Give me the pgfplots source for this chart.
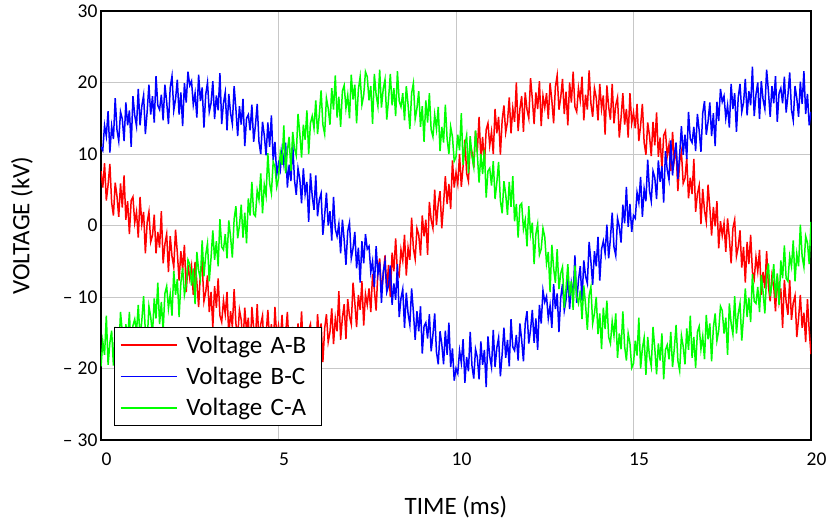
\documentclass[border=0pt]{standalone}
\usepackage{pgfplots}
\pgfplotsset{compat=1.18}
\usepackage{pgfplotstable}
\usepackage{fontspec}
\setmainfont{Carlito}
\pgfplotstableread{
t R B G
0.00 7.6 11.0 -19.7
0.05 5.3 10.5 -16.2
0.10 8.7 14.0 -18.1
0.15 3.5 12.5 -12.6
0.20 5.7 16.0 -19.5
0.25 8.6 10.2 -16.4
0.30 3.2 13.9 -14.7
0.35 1.4 12.1 -19.6
0.40 6.0 17.8 -14.2
0.45 4.1 13.4 -16.6
0.50 1.2 11.8 -17.8
0.55 5.9 15.9 -12.1
0.60 2.5 14.9 -14.9
0.65 7.0 11.8 -18.3
0.70 0.8 17.2 -13.8
0.75 3.4 14.0 -16.1
0.80 -1.2 16.1 -12.1
0.85 3.5 11.0 -18.3
0.90 4.0 18.1 -14.0
0.95 0.4 15.4 -13.1
1.00 1.9 13.9 -14.9
1.05 -1.7 19.1 -11.1
1.10 4.0 14.0 -15.9
1.15 0.2 16.7 -13.3
1.20 1.9 18.2 -9.9
1.25 -3.9 12.8 -14.9
1.30 0.4 15.9 -16.3
1.35 1.9 19.7 -11.3
1.40 -2.3 15.5 -12.8
1.45 -1.4 18.1 -15.2
1.50 1.5 14.4 -10.2
1.55 -3.9 20.9 -13.0
1.60 -0.9 16.8 -8.0
1.65 -3.1 16.2 -13.8
1.70 2.0 18.3 -10.7
1.75 -5.3 14.7 -14.7
1.80 -2.6 19.7 -9.5
1.85 -1.2 17.3 -8.5
1.90 -6.5 14.2 -11.6
1.95 -1.5 19.3 -9.6
2.00 -4.3 20.9 -12.6
2.05 -5.8 16.1 -6.4
2.10 -0.6 17.7 -9.7
2.15 -3.8 20.4 -7.5
2.20 -7.7 15.5 -12.8
2.25 -3.6 18.6 -8.0
2.30 -6.2 13.9 -5.9
2.35 -2.7 19.9 -9.7
2.40 -9.3 17.2 -8.3
2.45 -5.5 21.5 -4.8
2.50 -7.4 19.6 -5.4
2.55 -5.7 20.2 -8.4
2.60 -9.7 16.9 -6.0
2.65 -5.1 18.5 -11.0
2.70 -7.9 15.1 -3.7
2.75 -11.4 21.1 -6.3
2.80 -6.6 17.4 -7.5
2.85 -5.4 19.3 -2.1
2.90 -10.6 13.7 -7.1
2.95 -9.3 18.3 -4.1
3.00 -7.0 20.0 -2.5
3.05 -12.1 15.9 -7.8
3.10 -9.3 17.1 -4.5
3.15 -14.2 20.2 -0.7
3.20 -8.5 14.9 -4.8
3.25 -11.5 18.2 -2.2
3.30 -7.4 16.1 -5.7
3.35 -12.6 21.3 0.9
3.40 -13.5 14.2 -3.0
3.45 -10.5 17.1 -3.4
3.50 -12.4 18.6 -1.2
3.55 -9.3 13.3 -4.6
3.60 -15.5 18.4 0.7
3.65 -12.0 15.7 -1.6
3.70 -14.2 14.2 -4.5
3.75 -8.9 19.5 0.9
3.80 -13.7 16.3 2.7
3.85 -15.7 12.5 -1.8
3.90 -11.8 16.7 0.0
3.95 -13.2 14.1 2.9
4.00 -16.6 17.7 -1.7
4.05 -11.5 11.1 1.8
4.10 -14.8 15.0 -2.5
4.15 -12.9 15.5 3.8
4.20 -18.3 13.3 1.4
4.25 -11.4 16.9 6.1
4.30 -14.3 11.7 1.6
4.35 -16.0 14.0 1.3
4.40 -11.0 17.0 4.9
4.45 -16.3 11.7 3.6
4.50 -13.8 10.0 7.3
4.55 -12.6 14.5 1.7
4.60 -18.2 12.6 5.7
4.65 -15.3 9.8 4.2
4.70 -11.8 14.4 10.1
4.75 -16.2 11.0 5.9
4.80 -13.8 15.4 4.5
4.85 -17.7 9.1 8.9
4.90 -11.4 11.7 8.2
4.95 -15.6 7.1 5.4
5.00 -14.0 8.7 6.6
5.05 -16.1 7.7 10.2
5.10 -12.5 10.6 8.5
5.15 -17.6 8.6 14.0
5.20 -15.2 11.6 7.3
5.25 -12.1 5.3 10.5
5.30 -17.3 8.5 12.4
5.35 -18.9 6.2 7.6
5.40 -14.2 11.4 13.1
5.45 -15.9 6.4 10.8
5.50 -18.6 4.3 9.8
5.55 -13.7 8.0 15.6
5.60 -16.8 6.5 12.9
5.65 -12.0 3.1 9.5
5.70 -18.0 8.0 14.1
5.75 -15.2 4.4 12.0
5.80 -19.5 6.1 16.1
5.85 -14.6 0.5 10.0
5.90 -13.8 7.3 14.3
5.95 -17.1 4.1 15.3
6.00 -15.4 2.2 13.6
6.05 -18.6 7.0 17.5
6.10 -12.4 1.3 12.8
6.15 -15.9 3.6 15.5
6.20 -13.7 4.5 18.9
6.25 -19.1 -1.3 14.1
6.30 -14.4 1.4 12.8
6.35 -12.4 4.6 17.8
6.40 -16.3 0.0 16.4
6.45 -14.9 2.0 14.1
6.50 -11.6 -2.1 19.2
6.55 -16.6 4.0 16.2
6.60 -13.0 -0.5 21.0
6.65 -14.8 -1.5 15.1
6.70 -9.2 0.2 18.0
6.75 -16.0 -3.9 13.8
6.80 -12.9 0.8 18.8
6.85 -11.0 -2.0 19.6
6.90 -15.9 -5.5 16.4
6.95 -10.3 -0.8 18.2
7.00 -12.7 0.4 15.0
7.05 -13.8 -4.6 21.1
7.10 -8.0 -3.2 17.6
7.15 -10.8 -0.9 19.7
7.20 -14.2 -6.0 14.3
7.25 -9.7 -3.1 19.0
7.30 -11.8 -8.0 20.8
7.35 -7.8 -2.2 16.9
7.40 -14.0 -5.3 18.2
7.45 -9.6 -1.2 21.5
7.50 -11.1 -3.3 20.8
7.55 -8.8 -2.9 17.5
7.60 -12.1 -6.5 19.5
7.65 -6.8 -5.0 14.2
7.70 -9.0 -8.6 21.2
7.75 -11.9 -2.9 18.3
7.80 -6.4 -6.8 16.7
7.85 -4.6 -5.1 21.8
7.90 -9.1 -10.8 16.5
7.95 -7.1 -6.5 19.1
8.00 -4.2 -5.0 20.4
8.05 -8.9 -9.3 14.8
8.10 -5.5 -8.4 17.7
8.15 -10.0 -5.6 21.2
8.20 -3.8 -11.1 16.8
8.25 -6.4 -8.1 19.2
8.30 -1.8 -10.4 15.3
8.35 -6.5 -5.4 21.6
8.40 -7.0 -12.8 17.4
8.45 -3.4 -10.2 16.6
8.50 -4.9 -8.9 18.5
8.55 -1.3 -14.3 14.7
8.60 -7.0 -9.4 19.5
8.65 -3.1 -12.3 16.9
8.70 -4.8 -13.9 13.5
8.75 1.1 -8.8 18.5
8.80 -3.2 -12.1 19.9
8.85 -4.7 -16.0 14.9
8.90 -0.4 -12.0 16.4
8.95 -1.3 -14.8 18.8
9.00 -4.2 -11.3 13.8
9.05 1.4 -17.9 16.7
9.10 -1.5 -14.1 11.7
9.15 0.8 -13.6 17.5
9.20 -4.1 -15.8 14.4
9.25 3.3 -12.4 18.5
9.30 0.8 -17.6 13.4
9.35 -0.4 -15.3 12.4
9.40 5.0 -12.3 15.5
9.45 0.1 -17.7 13.5
9.50 3.1 -19.4 16.6
9.55 4.8 -14.8 10.4
9.60 -0.4 -16.6 13.8
9.65 3.0 -19.4 11.6
9.70 6.9 -14.7 16.9
9.75 3.0 -18.1 12.1
9.80 5.8 -13.6 10.0
9.85 2.3 -19.8 13.8
9.90 9.1 -17.2 12.4
9.95 5.3 -21.7 9.0
10.00 7.4 -20.0 9.6
10.05 5.8 -20.7 12.7
10.10 10.0 -17.5 10.5
10.15 5.4 -19.2 15.7
10.20 8.3 -15.9 8.5
10.25 12.0 -22.0 11.2
10.30 7.3 -18.4 12.6
10.35 6.2 -20.4 7.3
10.40 11.4 -14.9 12.5
10.45 10.3 -19.6 9.7
10.50 8.1 -21.4 8.2
10.55 13.2 -17.3 13.3
10.60 10.3 -18.4 10.0
10.65 15.2 -21.5 6.0
10.70 9.4 -16.2 10.0
10.75 12.4 -19.5 7.2
10.80 8.3 -17.4 10.6
10.85 13.4 -22.6 3.9
10.90 14.3 -15.5 7.6
10.95 11.2 -18.3 8.0
11.00 13.1 -19.8 5.6
11.05 10.0 -14.6 9.0
11.10 16.3 -19.8 3.7
11.15 12.9 -17.1 6.0
11.20 15.2 -15.7 8.9
11.25 9.9 -21.1 3.5
11.30 14.7 -18.0 1.7
11.35 16.8 -14.3 6.2
11.40 13.0 -18.5 4.4
11.45 14.5 -16.0 1.5
11.50 17.9 -19.7 6.1
11.55 12.9 -13.1 2.6
11.60 16.4 -17.0 6.9
11.65 14.5 -17.5 0.6
11.70 20.0 -15.3 3.0
11.75 13.2 -18.9 -1.7
11.80 16.3 -13.7 2.8
11.85 18.1 -16.0 3.1
11.90 13.1 -19.0 -0.5
11.95 18.6 -13.7 0.8
12.00 16.2 -12.0 -2.9
12.05 15.0 -16.5 2.7
12.10 20.6 -14.6 -1.2
12.15 17.7 -11.8 0.4
12.20 14.2 -16.4 -5.4
12.25 18.6 -13.0 -1.2
12.30 16.3 -17.4 0.2
12.35 20.2 -11.1 -4.1
12.40 13.9 -13.7 -3.3
12.45 18.1 -9.1 -0.4
12.50 16.5 -10.7 -1.6
12.55 18.5 -9.9 -5.3
12.60 14.9 -13.0 -3.7
12.65 19.9 -11.2 -9.3
12.70 17.5 -14.3 -2.7
12.75 14.3 -8.2 -6.0
12.80 19.4 -11.7 -8.0
12.85 21.0 -9.5 -3.3
12.90 16.2 -14.9 -8.9
12.95 17.9 -10.1 -6.7
13.00 20.5 -8.2 -5.8
13.05 15.6 -11.9 -11.5
13.10 18.7 -10.4 -8.8
13.15 14.0 -6.8 -5.4
13.20 20.0 -11.7 -9.9
13.25 17.2 -8.1 -7.8
13.30 21.5 -9.8 -11.8
13.35 16.6 -4.2 -5.6
13.40 15.9 -10.8 -9.9
13.45 19.2 -7.6 -10.9
13.50 17.5 -5.7 -9.1
13.55 20.8 -10.5 -13.1
13.60 14.7 -4.9 -8.4
13.65 18.3 -7.1 -11.1
13.70 16.2 -8.1 -14.6
13.75 21.7 -2.3 -9.8
13.80 17.1 -5.0 -8.6
13.85 15.2 -8.3 -13.7
13.90 19.2 -3.6 -12.3
13.95 17.9 -5.7 -10.0
14.00 14.7 -1.6 -15.2
14.05 19.8 -7.7 -12.3
14.10 16.3 -3.3 -17.3
14.15 18.2 -2.2 -11.5
14.20 12.7 -3.9 -14.5
14.25 19.6 0.1 -10.5
14.30 16.6 -4.6 -15.6
14.35 14.8 -1.8 -16.5
14.40 19.8 1.8 -13.4
14.45 14.3 -3.0 -15.4
14.50 16.8 -4.2 -12.3
14.55 17.9 1.0 -18.5
14.60 12.3 -0.2 -15.1
14.65 15.1 -2.4 -17.3
14.70 18.5 2.9 -12.0
14.75 14.1 0.3 -16.9
14.80 16.3 5.4 -18.9
14.85 12.3 -0.2 -15.1
14.90 18.5 3.0 -16.5
14.95 14.3 -0.9 -19.9
15.00 15.8 1.4 -19.3
15.05 13.6 1.0 -16.1
15.10 17.0 4.6 -18.2
15.15 11.8 3.2 -12.9
15.20 14.0 6.8 -20.0
15.25 17.0 1.2 -17.2
15.30 11.6 5.1 -15.7
15.35 9.9 3.4 -20.9
15.40 14.4 9.2 -15.6
15.45 12.6 4.9 -18.3
15.50 9.7 3.4 -19.7
15.55 14.5 7.6 -14.2
15.60 11.2 6.7 -17.2
15.65 15.8 3.7 -20.8
15.70 9.6 9.1 -16.5
15.75 12.3 6.1 -18.9
15.80 7.9 8.3 -15.1
15.85 12.6 3.2 -21.5
15.90 13.2 10.4 -17.4
15.95 9.7 7.8 -16.7
16.00 11.3 6.4 -18.7
16.05 7.6 11.9 -14.9
16.10 13.1 7.0 -19.8
16.15 9.1 9.9 -17.2
16.20 10.7 11.6 -13.9
16.25 4.8 6.5 -18.9
16.30 8.9 9.9 -20.3
16.35 10.3 13.9 -15.4
16.40 5.9 9.9 -16.9
16.45 6.6 12.7 -19.4
16.50 9.4 9.3 -14.4
16.55 3.8 15.9 -17.4
16.60 6.7 12.1 -12.6
16.65 4.4 11.6 -18.5
16.70 9.3 13.8 -15.6
16.75 1.9 10.4 -19.9
16.80 4.4 15.6 -14.9
16.85 5.6 13.3 -14.1
16.90 0.2 10.3 -17.3
16.95 5.1 15.7 -15.5
17.00 2.1 17.4 -18.7
17.05 0.5 12.7 -12.5
17.10 5.7 14.5 -15.9
17.15 2.5 17.2 -13.7
17.20 -1.4 12.5 -19.0
17.25 2.6 15.7 -14.3
17.30 -0.1 11.1 -12.3
17.35 3.4 17.3 -16.1
17.40 -3.2 14.6 -14.7
17.45 0.6 19.1 -11.3
17.50 -1.4 17.3 -11.9
17.55 0.3 18.1 -15.1
17.60 -3.7 15.0 -12.9
17.65 1.0 16.8 -18.1
17.70 -1.8 13.7 -10.9
17.75 -5.3 19.8 -13.7
17.80 -0.4 16.3 -15.2
17.85 0.8 18.5 -9.9
17.90 -4.3 13.1 -15.1
17.95 -3.0 17.9 -12.3
18.00 -0.7 19.8 -10.9
18.05 -5.9 15.9 -16.1
18.10 -3.0 17.2 -12.7
18.15 -8.0 20.5 -8.8
18.20 -2.3 15.4 -12.8
18.25 -5.4 18.8 -10.1
18.30 -1.3 16.8 -13.5
18.35 -6.5 22.2 -6.8
18.40 -7.5 15.3 -10.6
18.45 -4.4 18.3 -10.9
18.50 -6.4 20.0 -8.6
18.55 -3.4 14.9 -12.1
18.60 -9.7 20.2 -6.9
18.65 -6.5 17.6 -9.3
18.70 -8.8 16.3 -12.3
18.75 -3.6 21.8 -7.0
18.80 -8.5 18.8 -5.3
18.85 -10.6 15.2 -9.9
18.90 -7.0 19.5 -8.2
18.95 -8.5 17.1 -5.4
19.00 -12.0 20.9 -10.1
19.05 -7.0 14.5 -6.7
19.10 -10.6 18.5 -11.1
19.15 -8.8 19.2 -4.9
19.20 -14.3 17.1 -7.4
19.25 -7.6 20.8 -2.8
19.30 -10.7 15.8 -7.4
19.35 -12.5 18.2 -7.8
19.40 -7.6 21.4 -4.3
19.45 -13.2 16.2 -5.7
19.50 -10.8 14.7 -2.1
19.55 -9.8 19.5 -7.8
19.60 -15.6 17.8 -4.0
19.65 -13.0 15.2 -5.7
19.70 -9.7 20.1 0.1
19.75 -14.3 17.0 -4.3
19.80 -12.2 21.6 -5.8
19.85 -16.3 15.6 -1.5
19.90 -10.3 18.4 -2.4
19.95 -14.7 14.0 -5.4
20.00 -18.0 15.9 0.5
}\datatable
\definecolor{cR}{RGB}{255,0,0}
\definecolor{cB}{RGB}{0,0,255}
\definecolor{cG}{RGB}{0,255,0}
\begin{document}
\begin{tikzpicture}
\useasboundingbox (0,0) rectangle (831pt,522pt);
\begin{axis}[
  at={(101pt,82pt)}, anchor=south west,
  scale only axis, width=710pt, height=429pt,
  xmin=0, xmax=20, ymin=-30, ymax=30,
  xtick={0,5,10,15,20}, xticklabels={0,5,10,15,20},
  ytick={-30,-20,-10,0,10,20,30},
  yticklabels={{\textendash\hspace{5pt}30},{\textendash\hspace{5pt}20},{\textendash\hspace{5pt}10},0,10,20,30},
  major tick length=0pt,
  tick label style={font=\fontsize{19.5}{23}\selectfont},
  xticklabel style={anchor=north, xshift=5.5pt, yshift=-9pt},
  grid=major,
  grid style={line width=0.8pt, color=black!22},
  axis line style={line width=1.6pt, black},
  xlabel={TIME (ms)}, ylabel={VOLTAGE (kV)},
  every axis x label/.style={at={(axis description cs:0.5,-0.156)}, anchor=center, font=\fontsize{25}{30}\selectfont},
  every axis y label/.style={at={(axis description cs:-0.1113,0.5)}, anchor=center, rotate=90, font=\fontsize{25}{30}\selectfont},
  legend style={at={(0.0183,0.0326)}, anchor=south west, draw=black, line width=1.5pt, fill=white,
    font=\fontsize{25}{30}\selectfont, inner xsep=5pt, inner ysep=6pt, row sep=8.5pt,
    nodes={inner sep=2pt, text width=128pt},
    /tikz/every odd column/.append style={column sep=7pt}},
  legend cell align=left,
  legend image code/.code={\draw[#1, line width=1.6pt] (0pt,0pt) -- (56pt,0pt);},
]
\addplot[cR, line width=1.5pt, no marks] table[x=t, y=R] {\datatable};
\addlegendentry{Voltage A-B}
\addplot[cB, line width=1.5pt, no marks] table[x=t, y=B] {\datatable};
\addlegendentry{Voltage B-C}
\addplot[cG, line width=1.5pt, no marks] table[x=t, y=G] {\datatable};
\addlegendentry{Voltage C-A}
\end{axis}
\end{tikzpicture}
\end{document}
